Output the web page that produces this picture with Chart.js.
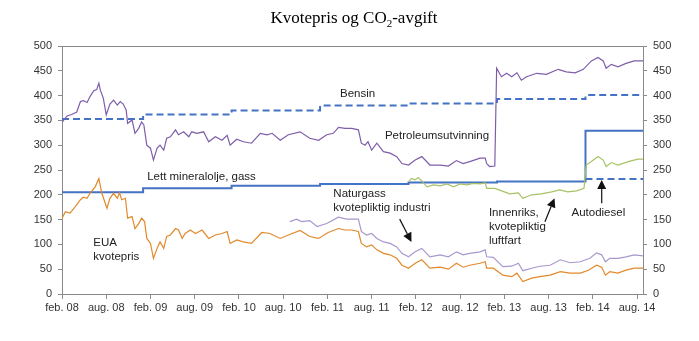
<!DOCTYPE html>
<html><head><meta charset="utf-8">
<script src="https://cdn.jsdelivr.net/npm/chart.js@4/dist/chart.umd.min.js"></script>
<style>html,body{margin:0;padding:0;background:#fff}#wrap{width:699px;height:341px}</style>
</head><body><div id="wrap"><canvas id="c" width="699" height="341"></canvas></div>
<script>
// x values are months counted from feb. 2008 (0 = feb. 08)
const tickMonths = [0,6,12,18,24,30,36,42,48,54,60,66,72,78];
const tickLabels = ['feb. 08','aug. 08','feb. 09','aug. 09','feb. 10','aug. 10','feb. 11','aug. 11','feb. 12','aug. 12','feb. 13','aug. 13','feb. 14','aug. 14'];
const yTicks = [0,50,100,150,200,250,300,350,400,450,500];

const yearStarts = [0, 11, 23, 35, 47, 59, 71, 78.8];
const bensin = [353, 362, 370, 380, 384, 393, 401, 401];
const lettMineralolje = [205, 213, 218, 222, 225, 227, 329, 329];
const autodieselMonths = [71, 78.8];
const autodiesel = [232, 232];

const petroMonths = [0,0.3,0.7,1.3,2,2.5,2.9,3.4,3.8,4.3,4.7,5.0,5.2,5.6,6.0,6.5,7.0,7.5,7.9,8.3,8.7,8.9,9.5,9.9,10.4,10.8,11.1,11.5,12,12.4,12.9,13.3,13.8,14.2,14.7,15.4,15.8,16.5,17.2,17.6,18.3,19.2,19.9,20.8,21.7,22.4,22.8,23.7,24.6,25.7,26.9,27.8,28.5,29.6,30.7,32.3,33.6,34.8,35.9,36.8,37.5,38.4,39.3,40.2,40.6,41.1,41.5,42.0,42.7,43.6,44.5,45.4,46.1,47.0,47.9,48.8,49.9,51.3,52.4,53.5,54.4,55.3,56.7,57.4,57.6,58,58.7,58.95,59.6,60.3,61,61.7,62.3,63,64.4,65.7,67.3,68.4,69.6,70.7,71.8,72.7,73.4,73.8,74.5,75.4,76.5,77.6,78.8];
const petro = [346,352,359,362,367,388,390,386,398,410,412,425,411,395,361,383,391,381,388,383,371,344,351,324,334,347,341,300,294,270,294,300,290,314,317,331,321,327,317,327,324,327,307,317,310,320,300,312,307,304,324,321,324,310,321,327,314,310,321,324,336,334,334,331,304,300,307,290,304,287,284,277,263,260,270,277,260,260,258,269,263,267,274,274,263,257,258,455,438,445,438,446,431,438,445,443,453,448,446,453,470,477,470,455,463,458,465,470,470];

const euaMonths = [0,0.45,1.1,1.8,2.5,2.9,3.4,3.8,4.5,5.0,5.4,6.1,6.5,7.0,7.5,7.8,8.1,8.6,8.9,9.5,9.9,10.4,10.8,11.2,11.5,12,12.4,12.9,13.3,13.8,14.2,14.7,15.4,15.8,16.3,16.7,17.4,18.1,19.0,19.9,20.8,21.7,22.4,22.8,23.7,24.6,25.7,27.1,28.2,29.6,30.7,32.3,33.6,34.8,36.1,37.5,38.4,39.3,40.2,40.6,41.3,42.0,42.7,43.6,44.5,45.4,46.1,47,47.9,48.8,49.9,51.3,52.4,53.5,54.4,55.3,56.7,57.4,57.6,58.5,59.8,61,61.7,62.5,63.7,64.8,66.2,67.6,68.9,70.3,71.4,72.5,73.2,73.7,74.3,75.4,76.5,77.6,78.8];
const eua = [152,166,163,176,190,195,193,203,216,233,203,173,193,203,193,204,190,193,153,156,132,142,153,146,112,102,72,92,105,92,116,119,132,129,112,122,129,122,129,112,119,122,126,102,109,105,102,124,122,112,119,128,116,112,124,132,129,129,126,102,95,99,89,82,79,72,58,52,62,69,52,54,50,62,54,58,62,65,52,52,38,35,42,25,32,35,38,45,42,42,48,58,54,38,45,42,48,52,52];

const naturgassMonths = [30.9,31.8,32.5,33.6,34.6,35.9,37.5,38.6,40.2,40.6,41.3,42,42.7,43.6,44.5,45.4,46.1,47,47.9,48.8,49.9,51.3,52.4,53.5,54.4,55.3,56.7,57.4,57.6,58.5,59.8,61,61.9,62.5,63.7,64.8,66.2,67.6,68.9,70.3,71.6,72.5,73.2,73.7,74.3,75.4,76.5,77.6,78.8];
const naturgass = [146,151,146,148,136,142,155,151,151,126,119,122,112,105,102,95,82,75,85,92,75,79,75,85,79,82,85,89,75,74,55,56,62,47,52,56,58,69,63,65,72,83,79,65,72,72,75,79,77];

const luftfartMonths = [47,47.4,47.9,48.3,48.8,49.5,50.4,51.3,52.2,53.1,54,54.9,55.8,56.7,57.4,57.6,58.7,60,60.7,61.9,62.5,63.7,65,66.4,67.5,68.6,69.8,70.8,71.1,71.8,72.7,73.4,73.8,74.5,75.4,76.8,78.1,78.8];
const luftfart = [226,233,230,235,228,216,220,218,222,216,222,220,223,222,224,213,213,206,202,204,193,200,202,206,210,206,208,213,260,267,277,270,257,265,260,267,272,272];

const pts = (xs, ys) => xs.map((x, i) => ({x, y: ys[i]}));

const notes = [
  {t:'Bensin', m:37.7, v:403},
  {t:'Petroleumsutvinning', m:43.8, v:318.5},
  {t:'Lett mineralolje, gass', m:11.55, v:236.5},
  {t:'EUA', m:4.25, v:103},
  {t:'kvotepris', m:4.25, v:75},
  {t:'Naturgass', m:36.8, v:201},
  {t:'kvotepliktig industri', m:36.8, v:173},
  {t:'Innenriks,', m:57.9, v:162.7},
  {t:'kvotepliktig', m:57.9, v:134.5},
  {t:'luftfart', m:57.9, v:107},
  {t:'Autodiesel', m:69.1, v:162.7}
];
const arrows = [
  {m1:45.8, v1:151, m2:47.4, v2:105},
  {m1:65.5, v1:145.8, m2:66.8, v2:193},
  {m1:73.2, v1:183, m2:73.2, v2:230}
];

const annot = {
  id: 'annot',
  afterDatasetsDraw(chart) {
    const ctx = chart.ctx, xs = chart.scales.x, ys = chart.scales.y;
    ctx.save();
    ctx.fillStyle = '#222';
    ctx.font = '11.5px "Liberation Sans", Arial, sans-serif';
    ctx.textAlign = 'left';
    ctx.textBaseline = 'middle';
    notes.forEach(n => ctx.fillText(n.t, xs.getPixelForValue(n.m), ys.getPixelForValue(n.v)));
    ctx.strokeStyle = '#111';
    ctx.fillStyle = '#111';
    ctx.lineWidth = 1.2;
    arrows.forEach(a => {
      const x1 = xs.getPixelForValue(a.m1), y1 = ys.getPixelForValue(a.v1);
      const x2 = xs.getPixelForValue(a.m2), y2 = ys.getPixelForValue(a.v2);
      const ang = Math.atan2(y2 - y1, x2 - x1);
      const L = 9, W = 4.5;
      const bx = x2 - L * Math.cos(ang), by = y2 - L * Math.sin(ang);
      ctx.beginPath(); ctx.moveTo(x1, y1); ctx.lineTo(bx, by); ctx.stroke();
      ctx.beginPath();
      ctx.moveTo(x2, y2);
      ctx.lineTo(bx + W * Math.sin(ang), by - W * Math.cos(ang));
      ctx.lineTo(bx - W * Math.sin(ang), by + W * Math.cos(ang));
      ctx.closePath(); ctx.fill();
    });
    // title
    ctx.fillStyle = '#000';
    ctx.textBaseline = 'alphabetic';
    const f1 = '17px "Liberation Serif", "Times New Roman", serif';
    const f2 = '11px "Liberation Serif", "Times New Roman", serif';
    const p1 = 'Kvotepris og CO', p2 = '2', p3 = '-avgift';
    ctx.font = f1; const w1 = ctx.measureText(p1).width, w3 = ctx.measureText(p3).width;
    ctx.font = f2; const w2 = ctx.measureText(p2).width;
    let x = 354 - (w1 + w2 + w3) / 2, base = 23;
    ctx.font = f1; ctx.fillText(p1, x, base); x += w1;
    ctx.font = f2; ctx.fillText(p2, x, base + 4); x += w2;
    ctx.font = f1; ctx.fillText(p3, x, base);
    ctx.restore();
  }
};

const tickFont = {family: '"Liberation Sans", Arial, sans-serif', size: 11};
const axisGray = '#8a8a8a';

new Chart(document.getElementById('c'), {
  type: 'line',
  data: {
    datasets: [
      {label: 'EUA kvotepris', data: pts(euaMonths, eua), borderColor: '#E2892B', borderWidth: 1.2, pointRadius: 0, tension: 0},
      {label: 'Naturgass kvotepliktig industri', data: pts(naturgassMonths, naturgass), borderColor: '#A898CC', borderWidth: 1.2, pointRadius: 0, tension: 0},
      {label: 'Innenriks, kvotepliktig luftfart', data: pts(luftfartMonths, luftfart), borderColor: '#A8C266', borderWidth: 1.2, pointRadius: 0, tension: 0},
      {label: 'Petroleumsutvinning', data: pts(petroMonths, petro), borderColor: '#7E5DAB', borderWidth: 1.2, pointRadius: 0, tension: 0},
      {label: 'Bensin', data: pts(yearStarts, bensin), borderColor: '#4472C4', borderWidth: 2, borderDash: [7, 4], stepped: 'before', pointRadius: 0},
      {label: 'Autodiesel', data: pts(autodieselMonths, autodiesel), borderColor: '#4472C4', borderWidth: 2, borderDash: [7, 4], stepped: 'before', pointRadius: 0},
      {label: 'Lett mineralolje, gass', data: pts(yearStarts, lettMineralolje), borderColor: '#4472C4', borderWidth: 2, stepped: 'before', pointRadius: 0}
    ]
  },
  options: {
    responsive: false,
    animation: false,
    devicePixelRatio: 1,
    layout: {padding: {top: 46, left: 0, right: 0, bottom: 0}},
    plugins: {legend: {display: false}, title: {display: false}, tooltip: {enabled: false}},
    scales: {
      x: {
        type: 'linear', min: 0, max: 78.8,
        afterBuildTicks: s => { s.ticks = tickMonths.map(v => ({value: v})); },
        afterFit: s => { s.height = 47; },
        ticks: {callback: v => tickLabels[tickMonths.indexOf(v)], font: tickFont, color: '#333', maxRotation: 0, autoSkip: false, padding: 2},
        grid: {drawOnChartArea: false, tickLength: 5, tickColor: axisGray},
        border: {color: axisGray, width: 1}
      },
      y: {
        position: 'left', min: 0, max: 500,
        afterBuildTicks: s => { s.ticks = yTicks.map(v => ({value: v})); },
        afterFit: s => { s.width = 62; },
        ticks: {font: tickFont, color: '#333', padding: 6},
        grid: {color: c => (c.tick && c.tick.value === 500) ? axisGray : 'rgba(0,0,0,0)', tickColor: axisGray, tickLength: 4},
        border: {color: axisGray, width: 1}
      },
      y2: {
        position: 'right', min: 0, max: 500,
        afterBuildTicks: s => { s.ticks = yTicks.map(v => ({value: v})); },
        afterFit: s => { s.width = 56; },
        ticks: {font: tickFont, color: '#333', padding: 6},
        grid: {drawOnChartArea: false, tickColor: axisGray, tickLength: 4},
        border: {color: axisGray, width: 1}
      }
    }
  },
  plugins: [annot]
});
</script>
</body></html>
